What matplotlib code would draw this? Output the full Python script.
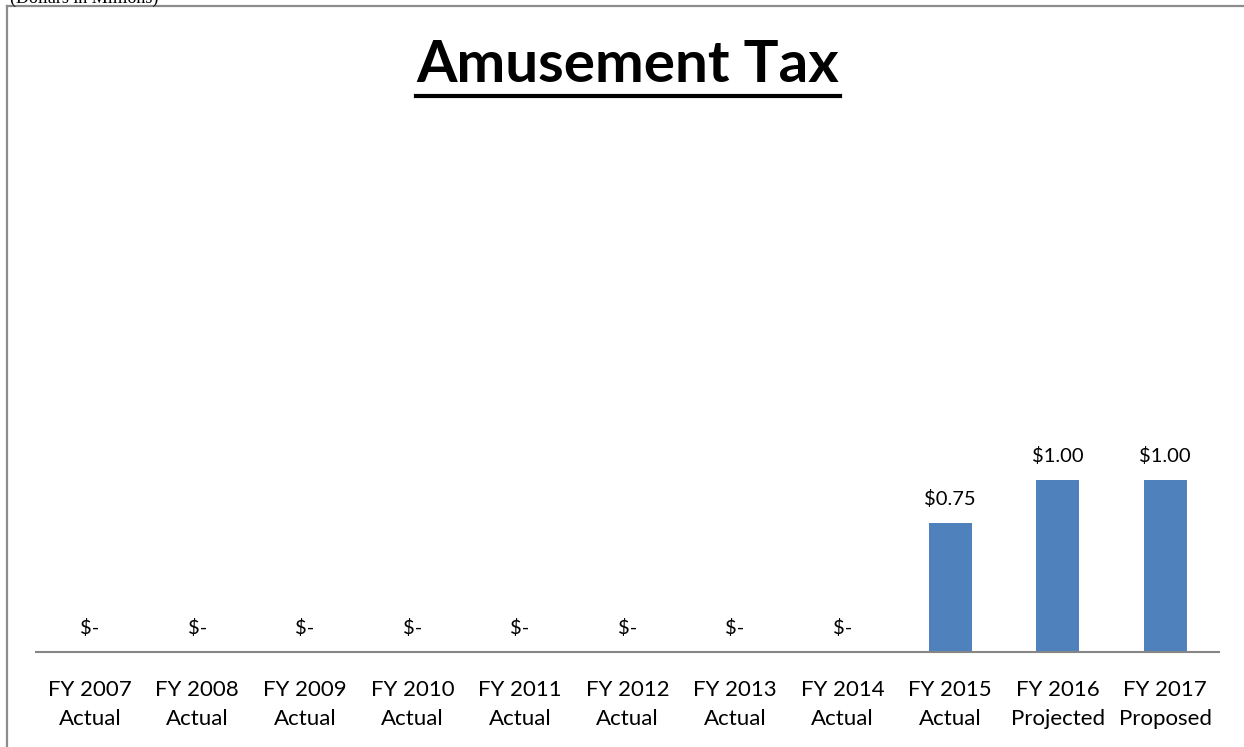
import matplotlib.pyplot as plt
import matplotlib.lines as mlines
import numpy as np

years = ['FY 2007', 'FY 2008', 'FY 2009', 'FY 2010', 'FY 2011', 'FY 2012',
         'FY 2013', 'FY 2014', 'FY 2015', 'FY 2016', 'FY 2017']
kinds = ['Actual'] * 9 + ['Projected', 'Proposed']
revenue = [0, 0, 0, 0, 0, 0, 0, 0, 0.75, 1.00, 1.00]

W, H = 1244, 747
fig = plt.figure(figsize=(W / 100, H / 100), dpi=100)

# chart frame (left and top edges only show)
fig.add_artist(mlines.Line2D([7 / W, 7 / W], [0, 1 - 6 / H], color='#8c8c8c', lw=1.6))
fig.add_artist(mlines.Line2D([7 / W, 1], [1 - 6 / H, 1 - 6 / H], color='#8c8c8c', lw=1.6))
fig.text(10 / W, 1.0 + 2 / H, '(Dollars in Millions)', family='Liberation Serif', fontsize=13,
         va='center', ha='left')

ax = fig.add_axes([36 / W, 1 - 652 / H, (1219 - 36) / W, 206 / H])
x = np.arange(len(years))
ax.bar(x, revenue, width=0.4, color='#4f81bd')
ax.set_xlim(-0.5, len(years) - 0.5)
ax.set_ylim(0, 1.2)
for s in ['top', 'right', 'left']:
    ax.spines[s].set_visible(False)
ax.spines['bottom'].set_color('#868686')
ax.spines['bottom'].set_linewidth(1.5)
ax.set_yticks([])
ax.set_xticks(x)
ax.set_xticklabels([f'{y}\n{k}' for y, k in zip(years, kinds)], family='Lato',
                   fontsize=16, linespacing=1.55)
ax.tick_params(axis='x', length=0, pad=20)

for xi, v in zip(x, revenue):
    lbl = '$-' if v == 0 else f'${v:.2f}'
    ax.annotate(lbl, (xi, v), xytext=(0, 15), textcoords='offset pixels',
                ha='center', va='bottom', family='Lato', fontsize=14.5)

fig.text(628 / W, 1 - 66 / H, 'Amusement Tax',
         ha='center', va='center', family='Lato', fontweight='bold', fontsize=42)
fig.add_artist(mlines.Line2D([416 / W, 840 / W], [1 - 96 / H, 1 - 96 / H], color='black', lw=3))

fig.savefig('out.png', dpi=100)
